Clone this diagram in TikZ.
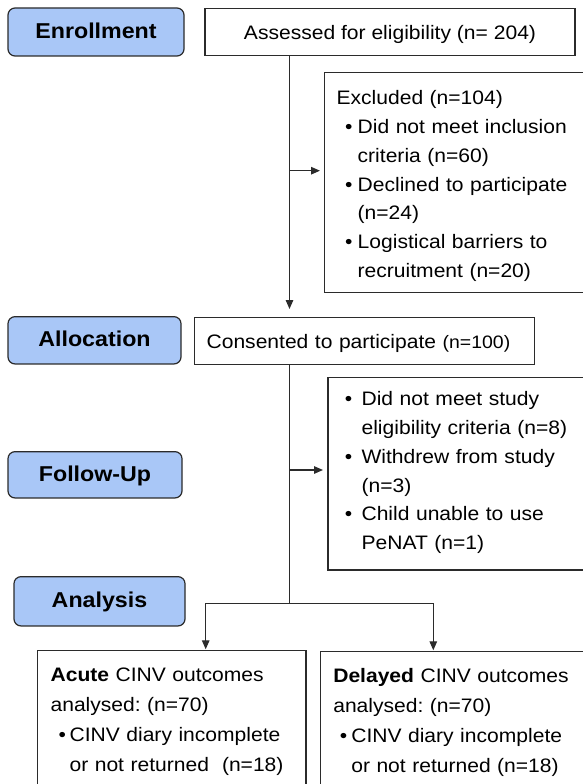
\documentclass[tikz,border=0pt]{standalone}
\usepackage{fontspec}
\setmainfont{Liberation Sans}[FakeStretch=1.08]
\usetikzlibrary{arrows.meta}
\definecolor{phaseblue}{HTML}{A9C7F7}
\definecolor{lineclr}{HTML}{2B2B2B}
\newcommand\fr[1]{\rule{0pt}{#1}}
\newcommand\lastd{\rule[-8.64pt]{0pt}{8.64pt}}
\newcommand\itm[3]{\hspace*{#1}\makebox[#2][l]{\textbullet}#3}
\frenchspacing
\begin{document}
\begin{tikzpicture}[x=1pt,y=-1pt,
  phase/.style={draw=lineclr, line width=1.2pt, fill=phaseblue, rounded corners=7pt, inner sep=0pt,
    font=\bfseries\fontsize{21.5pt}{24pt}\selectfont, text height=13pt, text depth=0pt},
  plainbox/.style={draw=lineclr, line width=1.2pt, fill=white, inner sep=0pt,
    font=\fontsize{19.5pt}{28.8pt}\selectfont},
  conn/.style={draw=lineclr, line width=1.3pt},
  arr/.style={conn, -{Triangle[length=9pt,width=7.5pt]}}]
\useasboundingbox (0,0) rectangle (582,784);

% phase labels
\node[phase, minimum width=176pt, minimum height=48pt] (enr) at (96,32) {Enrollment};
\node[phase, minimum width=173pt, minimum height=47.3pt] (alloc) at (94.5,340.3) {Allocation};
\node[phase, minimum width=174pt, minimum height=46.3pt] (follow) at (95,474.8) {Follow-Up};
\node[phase, minimum width=171pt, minimum height=49.3pt] (anal) at (99.5,601.3) {Analysis};

% boxes
\node[plainbox, minimum width=370pt, minimum height=47pt, text height=16pt, text depth=0pt] (assess) at (390,32)
  {Assessed for eligibility (n= 204)};

\node[plainbox, anchor=north west, inner xsep=12.3pt, text width=251.7pt, align=left, minimum height=220pt] (excl) at (323.7,71.7)
  {\fr{26.04pt}Excluded (n=104)\\
   \itm{8.5pt}{12.6pt}{Did not meet inclusion}\\
   \hspace*{21.1pt}criteria (n=60)\\
   \itm{8.5pt}{12.6pt}{Declined to participate}\\
   \hspace*{21.1pt}(n=24)\\
   \itm{8.5pt}{12.6pt}{Logistical barriers to}\\
   \hspace*{21.1pt}recruitment (n=20)\lastd};

\node[plainbox, anchor=north west, inner xsep=12pt, text width=316pt, align=left, minimum height=47.3pt,
      text height=16pt, text depth=0pt] (consent) at (194,316.7)
  {Consented to participate {\fontsize{18pt}{20pt}\selectfont(n=100)}};

\node[plainbox, anchor=north west, inner xsep=16.9pt, text width=238.8pt, align=left, minimum height=192.3pt] (drop) at (327.4,377)
  {\fr{16.34pt}\itm{0pt}{16.7pt}{Did not meet study}\\
   \hspace*{16.7pt}eligibility criteria (n=8)\\
   \itm{0pt}{16.7pt}{Withdrew from study}\\
   \hspace*{16.7pt}(n=3)\\
   \itm{0pt}{16.7pt}{Child unable to use}\\
   \hspace*{16.7pt}PeNAT (n=1)\lastd};

\node[plainbox, anchor=north west, inner xsep=13.3pt, inner ysep=10.5pt, text width=242pt, align=left,
      font=\fontsize{19.5pt}{30pt}\selectfont] (acute) at (36.7,650)
  {\fr{20pt}\textbf{Acute} CINV outcomes\\
   analysed: (n=70)\\
   \itm{8pt}{11pt}{CINV diary incomplete}\\
   \hspace*{19pt}or not returned\ \ (n=18)\lastd};

\node[plainbox, anchor=north west, inner xsep=12.7pt, inner ysep=10.5pt, text width=254.6pt, align=left,
      font=\fontsize{19.5pt}{30pt}\selectfont] (delayed) at (320,651)
  {\fr{20pt}\textbf{Delayed} CINV outcomes\\
   analysed: (n=70)\\
   \itm{6.6pt}{11.4pt}{CINV diary incomplete}\\
   \hspace*{18pt}or not returned (n=18)\lastd};

% connectors
\coordinate (b1) at (289.5,170.7);
\coordinate (b2) at (289.5,470);
\coordinate (split) at (289.5,603.3);
\coordinate (sl) at (205.7,603.3);
\coordinate (sr) at (433.3,603.3);

\draw[arr, shorten >=7.7pt] (assess.south -| b1) -- (consent.north -| b1);
\draw[arr, shorten >=3.7pt] (b1) -- (excl.west |- b1);
\draw[conn] (consent.south -| b1) -- (split);
\draw[arr, shorten >=4.4pt] (b2) -- (drop.west |- b2);
\draw[conn] (sl) -- (sr);
\draw[arr, shorten >=0.7pt] (sl) -- (acute.north -| sl);
\draw[arr, shorten >=0.7pt] (sr) -- (delayed.north -| sr);
\end{tikzpicture}
\end{document}
